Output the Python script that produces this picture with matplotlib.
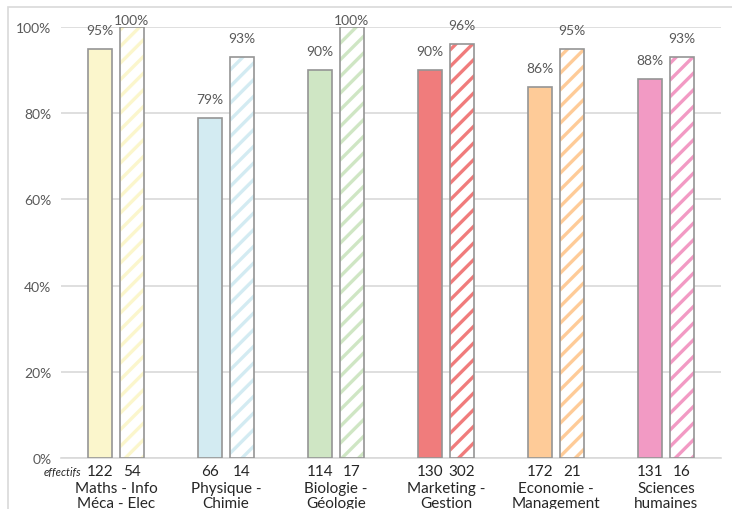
import matplotlib
matplotlib.use("Agg")
import matplotlib.pyplot as plt
from matplotlib.patches import Rectangle
import numpy as np

# Success rates per discipline: first cohort (solid) and second cohort (hatched)
categories = ["Maths - Info\nMéca - Elec", "Physique -\nChimie", "Biologie -\nGéologie",
              "Marketing -\nGestion", "Economie -\nManagement", "Sciences\nhumaines"]
rate_solid = [95, 79, 90, 90, 86, 88]
rate_hatched = [100, 93, 100, 96, 95, 93]
count_solid = [122, 66, 114, 130, 172, 131]
count_hatched = [54, 14, 17, 302, 21, 16]
colors = ["#FBF6CC", "#D3EBF2", "#CFE6C4", "#F07C7C", "#FECB98", "#F29AC4"]
yticks = [0, 20, 40, 60, 80, 100]

plt.rcParams["font.family"] = ["Lato", "DejaVu Sans"]
plt.rcParams["hatch.linewidth"] = 2.4

text_color = "#595959"
edge_color = "#959595"
grid_color = "#D9D9D9"

fig = plt.figure(figsize=(7.32, 5.10), dpi=100)
ax = fig.add_axes([61 / 732, 51 / 510, 660 / 732, 431 / 510])

# chart-area border
fig.patches.append(Rectangle((8 / 732, -0.1), 1.0, 1.1 - 8 / 510, transform=fig.transFigure,
                             fill=False, edgecolor="#D9D9D9", linewidth=1.2, zorder=0))

x = np.arange(len(categories))
width = 0.225
offset = 0.145

ax.bar(x - offset, rate_solid, width, color=colors, edgecolor=edge_color, linewidth=1.2, zorder=3)
for xi, v, c in zip(x, rate_hatched, colors):
    ax.bar(xi + offset, v, width, color="white", edgecolor=c, hatch="//", linewidth=0, zorder=3)
    ax.bar(xi + offset, v, width, fill=False, edgecolor=edge_color, linewidth=1.2, zorder=4)

for xi, v in zip(x, rate_solid):
    ax.text(xi - offset, v + 3.0, f"{v}%", ha="center", va="bottom", fontsize=10, color=text_color)
for xi, v in zip(x, rate_hatched):
    ax.text(xi + offset, v + (0.2 if v >= 100 else 3.0), f"{v}%", ha="center", va="bottom",
            fontsize=10, color=text_color)

# head counts under the axis
for xi, a, b in zip(x, count_solid, count_hatched):
    ax.text(xi - offset, -1.4, str(a), ha="center", va="top", fontsize=11, color="#262626")
    ax.text(xi + offset, -1.4, str(b), ha="center", va="top", fontsize=11, color="#262626")
ax.text(-0.32, -1.8, "effectifs", ha="right", va="top", fontsize=8, style="italic", color="#262626")

for xi, lab in zip(x, categories):
    ax.text(xi, -5.4, lab, ha="center", va="top", fontsize=11, color="#262626", linespacing=1.05)

ax.set_xlim(-0.5, len(categories) - 0.5)
ax.set_ylim(0, 100)
ax.set_yticks(yticks)
ax.set_yticklabels([f"{t}%" for t in yticks], fontsize=10, color=text_color)
ax.set_xticks([])
ax.tick_params(axis="y", length=0, pad=7)
ax.yaxis.grid(True, color=grid_color, linewidth=1.2, zorder=0)
ax.set_axisbelow(True)
for s in ax.spines.values():
    s.set_visible(False)
ax.spines["bottom"].set_visible(True)
ax.spines["bottom"].set_color(grid_color)
ax.spines["bottom"].set_linewidth(1.2)

fig.savefig("out.png", dpi=100)
